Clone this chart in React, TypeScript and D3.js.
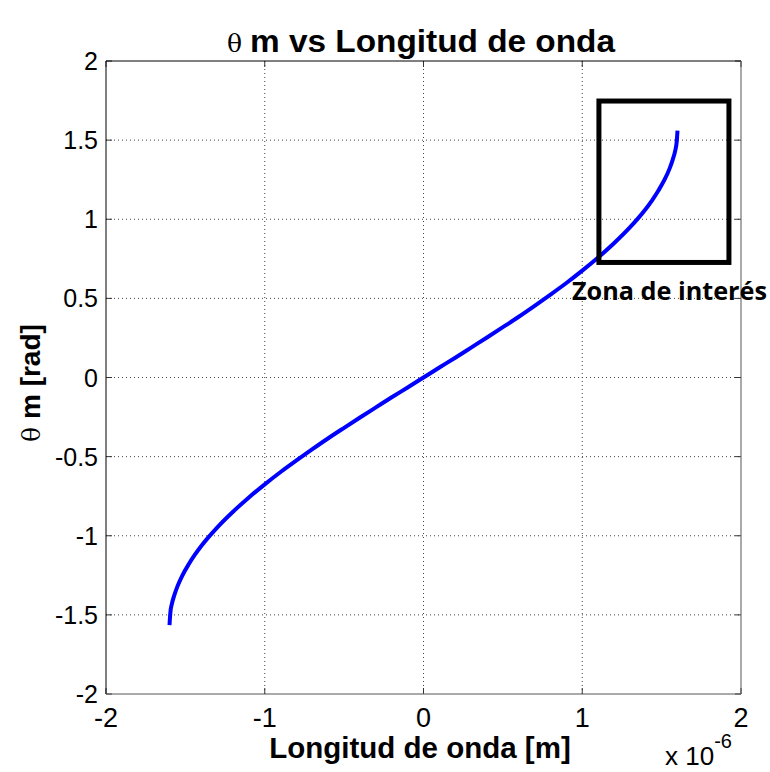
import React from "react";
import * as d3 from "d3";

// Data (wavelength in metres, theta in rad)
const wavelength = [
  -1.6e-6, -1.595e-6, -1.585e-6, -1.57e-6, -1.55e-6, -1.52e-6, -1.48e-6, -1.44e-6,
  -1.4e-6, -1.35e-6, -1.3e-6, -1.2e-6, -1.1e-6, -1.0e-6, -0.9e-6, -0.8e-6, -0.7e-6,
  -0.6e-6, -0.5e-6, -0.4e-6, -0.3e-6, -0.2e-6, -0.1e-6, 0,
  0.1e-6, 0.2e-6, 0.3e-6, 0.4e-6, 0.5e-6, 0.6e-6, 0.7e-6, 0.8e-6, 0.9e-6, 1.0e-6,
  1.1e-6, 1.2e-6, 1.3e-6, 1.35e-6, 1.4e-6, 1.44e-6, 1.48e-6, 1.52e-6, 1.55e-6,
  1.57e-6, 1.585e-6, 1.595e-6, 1.6e-6,
];
const theta = [
  -1.565, -1.49, -1.43, -1.377, -1.32, -1.253, -1.182, -1.12,
  -1.065, -1.004, -0.948, -0.848, -0.758, -0.675, -0.597, -0.524, -0.453,
  -0.384, -0.318, -0.253, -0.189, -0.125, -0.063, 0,
  0.063, 0.125, 0.189, 0.253, 0.318, 0.384, 0.453, 0.524, 0.597, 0.675,
  0.758, 0.848, 0.948, 1.004, 1.065, 1.12, 1.182, 1.253, 1.32,
  1.377, 1.43, 1.49, 1.56,
];
const xTicks = [-2e-6, -1e-6, 0, 1e-6, 2e-6];
const yTicks = [-2, -1.5, -1, -0.5, 0, 0.5, 1, 1.5, 2];
const zone = { x0: 1.105e-6, x1: 1.924e-6, y0: 0.727, y1: 1.747 };
const titleText = "m vs Longitud de onda";
const xLabel = "Longitud de onda [m]";
const yLabel = "m [rad]";
const zoneLabel = "Zona de interés";

export default function App() {
  const W = 770, H = 772;
  const L = 106, R = 741, T = 61, B = 694;
  const x = d3.scaleLinear().domain([-2e-6, 2e-6]).range([L, R]);
  const y = d3.scaleLinear().domain([-2, 2]).range([B, T]);
  const pts: [number, number][] = wavelength.map((w, i) => [w, theta[i]]);
  const line = d3
    .line<[number, number]>()
    .x((d) => x(d[0]))
    .y((d) => y(d[1]))
    .curve(d3.curveMonotoneX);
  const fmtX = (v: number) => String(Math.round(v / 1e-6));
  const font = "'Liberation Sans', Arial, sans-serif";
  const tick = 6;
  return (
    <svg
      width={W}
      height={H}
      style={{ position: "absolute", left: 0, top: 0, background: "#fff" }}
      fontFamily={font}
    >
      <rect x={0} y={0} width={W} height={H} fill="#fff" />
      {/* grid */}
      {xTicks.slice(1, -1).map((t) => (
        <line key={"gx" + t} x1={x(t)} x2={x(t)} y1={T} y2={B} stroke="#444" strokeWidth={1} strokeDasharray="1,3" />
      ))}
      {yTicks.slice(1, -1).map((t) => (
        <line key={"gy" + t} x1={L} x2={R} y1={y(t)} y2={y(t)} stroke="#444" strokeWidth={1} strokeDasharray="1,3" />
      ))}
      {/* ticks */}
      {xTicks.map((t) => (
        <g key={"tx" + t}>
          <line x1={x(t)} x2={x(t)} y1={B} y2={B - tick} stroke="#333" />
          <line x1={x(t)} x2={x(t)} y1={T} y2={T + tick} stroke="#333" />
          <text x={x(t)} y={727} textAnchor="middle" fontSize={27} fill="#000">
            {fmtX(t)}
          </text>
        </g>
      ))}
      {yTicks.map((t) => (
        <g key={"ty" + t}>
          <line x1={L} x2={L + tick} y1={y(t)} y2={y(t)} stroke="#333" />
          <line x1={R} x2={R - tick} y1={y(t)} y2={y(t)} stroke="#333" />
          <text x={98} y={y(t) + 9} textAnchor="end" fontSize={25} fill="#000">
            {String(t)}
          </text>
        </g>
      ))}
      {/* axes box */}
      <line x1={L} x2={R} y1={T} y2={T} stroke="#000" />
      <line x1={L} x2={L} y1={T} y2={B} stroke="#000" />
      <line x1={L} x2={R} y1={B} y2={B} stroke="#555" />
      <line x1={R} x2={R} y1={T} y2={B} stroke="#555" />
      {/* curve */}
      <path d={line(pts) || ""} fill="none" stroke="#0000ff" strokeWidth={4} strokeLinecap="butt" />
      {/* zone box */}
      <rect
        x={x(zone.x0)}
        y={y(zone.y1)}
        width={x(zone.x1) - x(zone.x0)}
        height={y(zone.y0) - y(zone.y1)}
        fill="none"
        stroke="#000"
        strokeWidth={5}
      />
      <text
        x={572}
        y={300}
        fontFamily="'Open Sans', 'Noto Sans', sans-serif"
        fontWeight="bold"
        fontSize={25}
        textLength={195}
        lengthAdjust="spacingAndGlyphs"
        fill="#000"
      >
        {zoneLabel}
      </text>
      {/* title */}
      <text x={227} y={52} fontSize={31} fontWeight="bold" fill="#000">
        <tspan fontWeight="normal" fontFamily="'DejaVu Serif', serif" fontSize={25}>θ</tspan>
        <tspan x={250} textLength={365} lengthAdjust="spacingAndGlyphs">{titleText}</tspan>
      </text>
      {/* x label */}
      <text x={420} y={758} textAnchor="middle" fontSize={29.5} fontWeight="bold" fill="#000">
        {xLabel}
      </text>
      {/* y label */}
      <text
        transform={`translate(40, ${383}) rotate(-90)`}
        textAnchor="middle"
        fontSize={28}
        fontWeight="bold"
        fill="#000"
      >
        <tspan fontWeight="normal" fontFamily="'DejaVu Serif', serif" fontSize={25}>θ</tspan>
        <tspan> {yLabel}</tspan>
      </text>
      {/* exponent */}
      <text x={665} y={765} fontSize={26} fill="#000">
        x 10
        <tspan dy={-17} fontSize={20}>-6</tspan>
      </text>
    </svg>
  );
}
